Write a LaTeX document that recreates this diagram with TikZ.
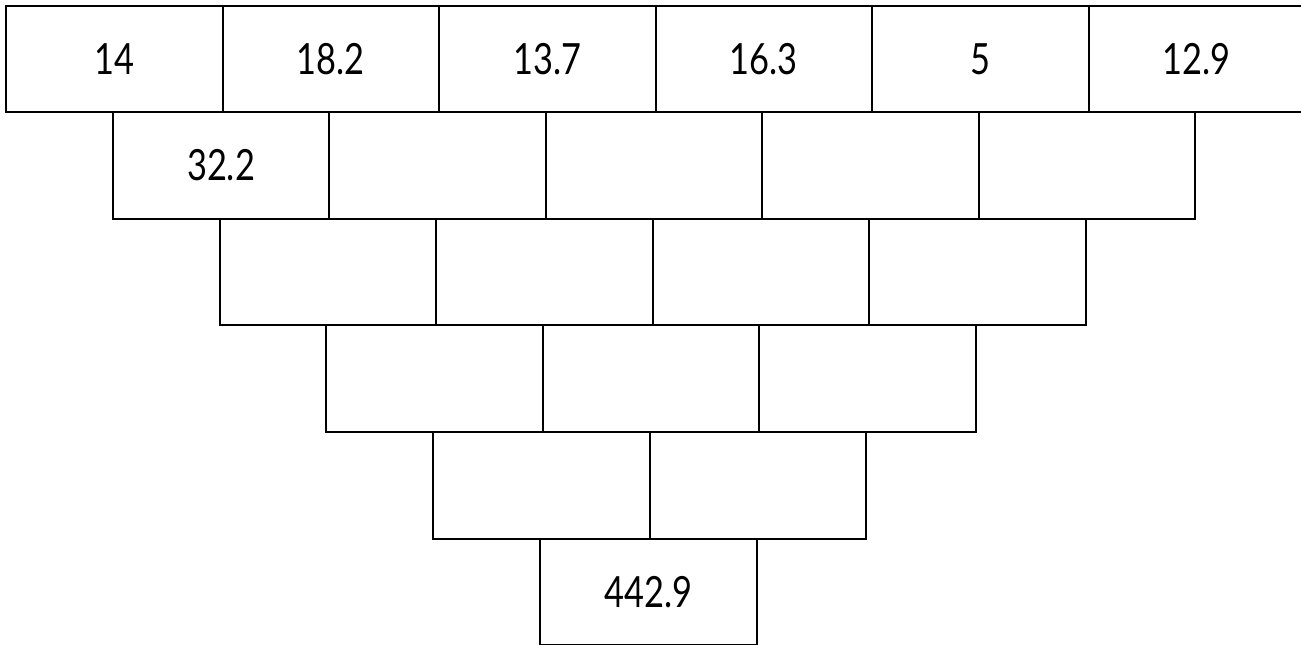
\documentclass[tikz,border=0pt]{standalone}
\usepackage{fontspec}
\setmainfont[FakeStretch=0.8]{Lato}
\begin{document}
\begin{tikzpicture}[x=1pt,y=-1pt,
  brick/.style={draw=black,line width=2pt,minimum width=216.5pt,minimum height=106.6pt,inner sep=0pt,anchor=north west},
  num/.style={inner sep=0pt,font=\fontsize{43}{43}\selectfont}]
\useasboundingbox (0,0) rectangle (1301,645);
\foreach \r/\n in {0/6,1/5,2/4,3/3,4/2,5/1}{
  \pgfmathsetmacro{\last}{\n-1}
  \foreach \i in {0,...,\last}{
    \node[brick] (b-\r-\i) at ({5+\r*106.8+\i*216.5},{4.5+\r*106.6}) {};
  }
}
\node[num] (t1) at (b-0-0) {14};
\node[num] (t2) at (b-0-1) {18.2};
\node[num] (t3) at (b-0-2) {13.7};
\node[num] (t4) at (b-0-3) {16.3};
\node[num] (t5) at (b-0-4) {5};
\node[num] (t6) at (b-0-5) {12.9};
\node[num] (t7) at (b-1-0) {32.2};
\node[num] (t8) at (b-5-0) {442.9};
\end{tikzpicture}
\end{document}
